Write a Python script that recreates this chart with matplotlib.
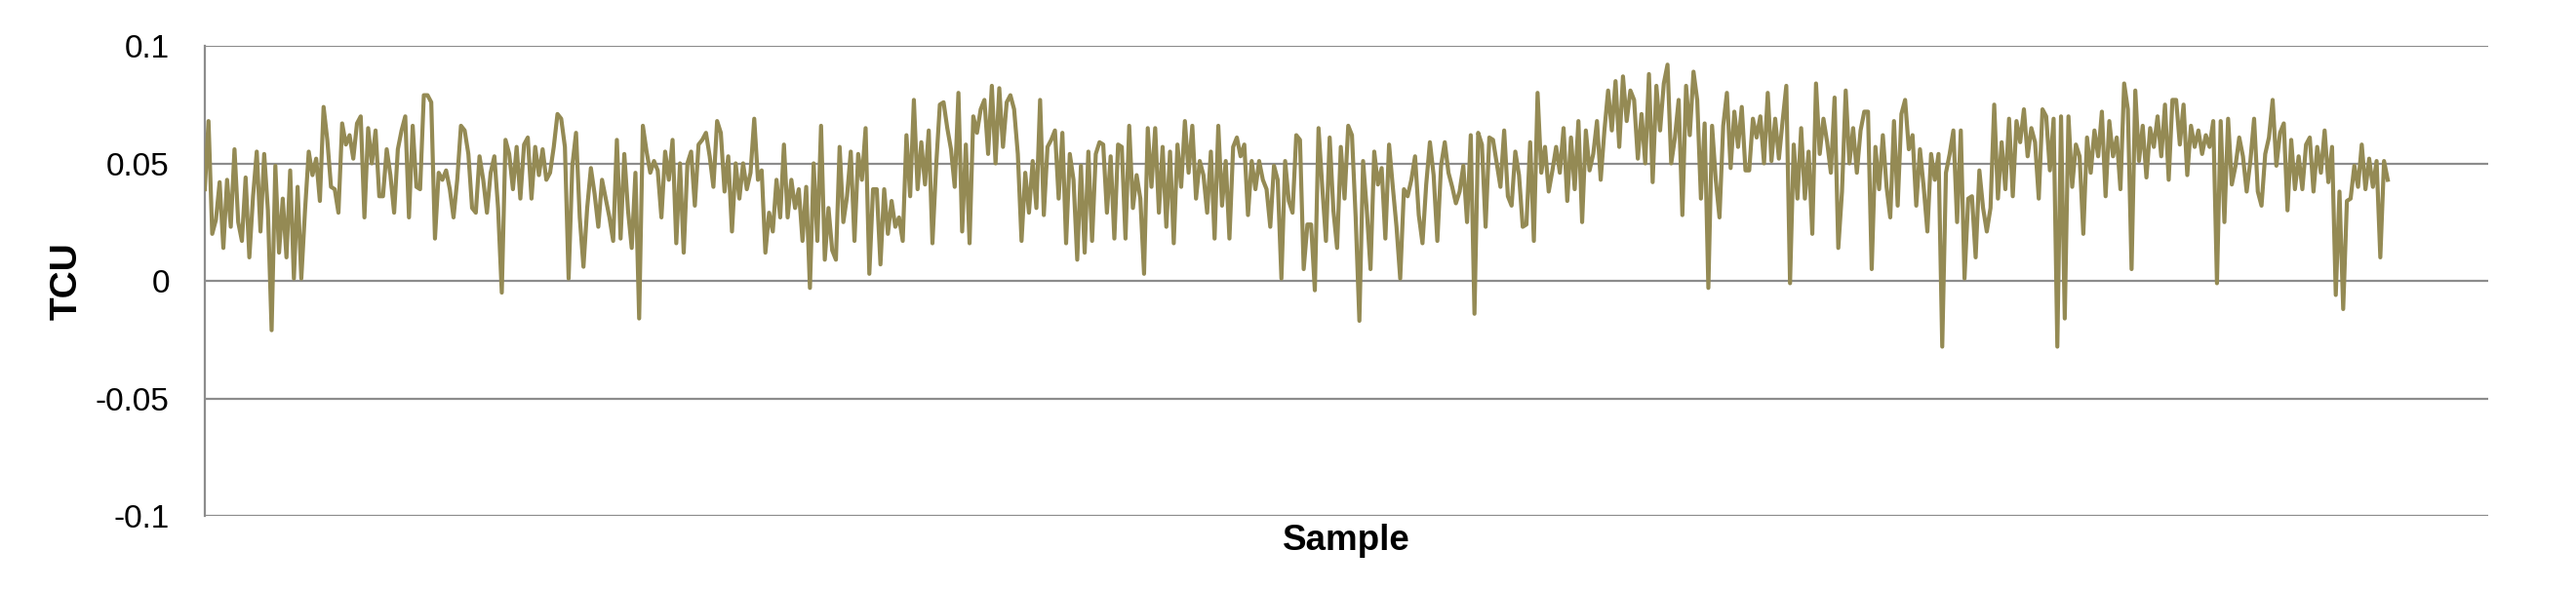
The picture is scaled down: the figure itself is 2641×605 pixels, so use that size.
import numpy as np
import matplotlib.pyplot as plt

# TCU values (in thousandths), grouped by stretch of the x axis
seg1 = [39, 68, 20, 26, 42, 14, 43, 23, 56, 25, 17, 44, 10, 36, 55, 21, 54, 30,
        -21, 49, 12, 35, 10, 47, 1, 40, 1, 30, 55, 45, 52, 34, 74, 60, 40, 39,
        29, 67, 58, 62, 52, 67, 70, 27, 65, 50, 64, 36, 36, 56, 45, 29, 56, 64, 70, 27, 66, 40,
        39, 79]
seg2 = [79, 76, 18, 46, 43, 47, 39, 27, 43, 66, 64, 54, 31, 29, 53,
        43, 29, 46, 53, 31, -5, 60, 54, 39, 57, 35, 58, 61, 35, 57, 45, 56, 43, 46,
        57, 71, 69, 57, 1, 49, 63, 27, 6, 31, 48, 37, 23, 43, 35, 27, 17, 60, 18, 54, 30, 14,
        46, -16, 66, 55, 46]
seg3 = [51, 47, 27, 55, 43, 60, 16, 50, 12, 50, 55, 32, 58, 60, 63, 53, 40, 68, 63, 38,
        53, 21, 50, 35, 50, 39, 46, 69, 43, 47, 12, 29, 21, 43, 27, 58, 27, 43, 31, 39,
        17, 40, -3, 50, 17, 66, 9, 31, 13, 9, 57, 25, 36, 55, 17, 54, 43, 65, 3, 39]
seg4 = [39, 7, 39, 20, 34, 23, 27, 17, 62, 36, 77, 39, 59, 41, 64, 16, 49, 75, 76, 65,
        56, 40, 80, 21, 58, 16, 70, 63, 73, 77, 54, 83, 50, 82, 57, 76, 79, 73, 54, 17,
        46, 29, 51, 31, 77, 28, 57, 60, 64, 35, 63, 16, 54, 43, 9, 49, 12, 55, 17, 54,
        59]
seg5 = [58, 29, 53, 18, 58, 57, 18, 66, 31, 45, 35, 3, 65, 40, 65, 29, 57, 23, 55, 16,
        58, 40, 68, 46, 66, 35, 51, 45, 29, 55, 18, 66, 32, 51, 18, 57, 61, 53, 58, 28,
        51, 39, 51, 43, 39, 23, 49, 43, 1, 51, 34, 29, 62, 60, 5, 24]
seg6 = [24, -4, 65, 40, 17, 61, 30, 14, 57, 35, 66, 62, 27, -17, 51, 30, 5, 55, 41,
        48, 18, 58, 40, 23, 1, 39, 36, 43, 53, 28, 16, 41, 59, 45, 17, 49, 59, 46, 40,
        33, 38, 49, 25, 62, -14, 63, 58, 23, 61, 60, 50, 40, 64, 36, 32, 55, 45, 23]
seg7 = [24, 59, 17, 80, 46, 57, 38, 47, 57, 46, 65, 34, 61, 39, 68, 25, 64, 47, 54, 68,
        43, 64, 81, 64, 85, 57, 87, 68, 81, 77, 52, 71, 50, 88, 42, 83, 64, 84, 92, 50,
        61, 77, 28, 83, 62, 89, 77, 35, 67, -3, 66, 43, 27, 66, 80, 48, 72, 57, 74, 47]
seg8 = [47, 69, 61, 70, 50, 80, 51, 69, 52, 68, 83, -1, 58, 35, 65, 35, 55, 20, 84, 54,
        69, 59, 46, 78, 14, 38, 81, 50, 65, 46, 64, 72, 72, 5, 57, 39, 62, 40, 27, 68,
        32, 71, 77, 56, 62, 32, 56, 40, 21, 54, 43, 54, -28, 46, 54, 64, 25]
seg9 = [64, 1, 35, 36, 10, 47, 31, 21, 31, 75, 35, 59, 39, 69, 36, 68, 59, 73, 53, 65,
        59, 35, 73, 70, 47, 69, -28, 70, -16, 70, 40, 58, 53, 20, 61, 46, 64, 53, 72, 36,
        68, 53, 61, 39, 84, 73, 5, 81, 51, 66, 44, 65, 57, 70, 53, 75, 43, 77]
seg10 = [77, 58, 75, 45, 66, 57, 64, 54, 62, 57, 68, -1, 68, 25, 69, 41, 49, 61, 53, 38,
         51, 69, 38, 32, 54, 61, 77, 49, 63, 67, 30, 60, 39, 53, 39, 58, 61, 38, 57, 46,
         64, 42, 57, -6, 38, -12, 34, 35, 49, 40, 58, 39, 52, 40, 51, 10, 51, 43]

tcu = np.array(seg1 + seg2 + seg3 + seg4 + seg5 + seg6 + seg7 + seg8 + seg9 + seg10) / 1000.0
sample = np.arange(len(tcu))

y_ticks = [-0.1, -0.05, 0, 0.05, 0.1]
y_labels = ["-0.1", "-0.05", "0", "0.05", "0.1"]

plt.rcParams['font.family'] = ['Liberation Sans', 'DejaVu Sans']

fig = plt.figure(figsize=(26.41, 6.05), dpi=100)
ax = fig.add_axes([0.0795, 0.1256, 0.8864, 0.7967])

grid_c = '#8c8c8c'
for v in y_ticks:
    ax.axhline(v, color=grid_c, lw=1.6, zorder=1)

ax.plot(sample, tcu, color='#948a54', lw=3.0, zorder=3)

ax.set_xlim(0, (len(tcu) - 1) * 1.046)
ax.set_ylim(-0.1, 0.1)
ax.set_yticks(y_ticks)
ax.set_yticklabels(y_labels, fontsize=24)
ax.set_xticks([])
ax.tick_params(axis='y', length=0, pad=26)

for s in ['top', 'right', 'bottom']:
    ax.spines[s].set_visible(False)
ax.spines['left'].set_color(grid_c)
ax.spines['left'].set_linewidth(1.6)

ax.set_xlabel("Sample", fontsize=26.5, fontweight='bold', labelpad=6)
ax.set_ylabel("TCU", fontsize=28, fontweight='bold', labelpad=8)

fig.savefig("out.png", dpi=100)
